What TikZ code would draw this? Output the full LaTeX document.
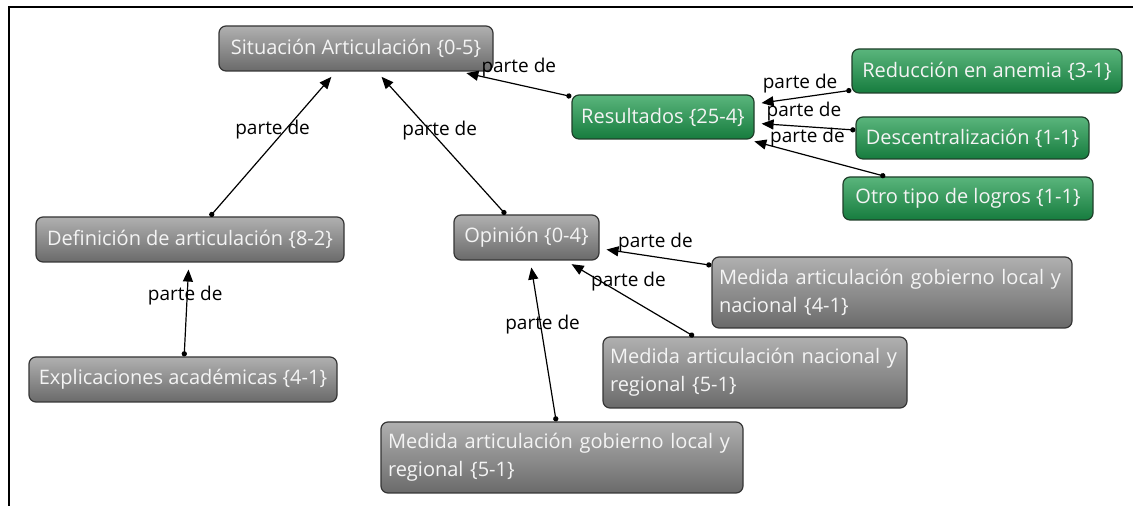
\documentclass[tikz,border=0pt]{standalone}
\usepackage{fontspec}
\setmainfont{Open Sans}
\usetikzlibrary{arrows.meta}
\definecolor{codetop}{HTML}{B0B0B0}
\definecolor{codebot}{HTML}{6A6A6A}
\definecolor{codeline}{HTML}{353535}
\definecolor{codetext}{HTML}{F4F4F4}
\definecolor{restop}{HTML}{5AB57C}
\definecolor{resbot}{HTML}{167C3E}
\definecolor{resline}{HTML}{1F3F2A}

\begin{document}
\begin{tikzpicture}[x=0.5pt,y=-0.5pt,
    code/.style={draw=codeline,line width=0.6pt,rounded corners=3.5pt,
      top color=codetop,bottom color=codebot,text=codetext,
      font=\fontsize{10}{14}\selectfont,inner sep=0pt},
    result/.style={code,draw=resline,top color=restop,bottom color=resbot},
    twoline/.style={align=left,inner xsep=3.5pt},
    partof/.style={line width=0.6pt,{Circle[length=2.6pt]}-{Triangle[length=6pt,width=5pt]},shorten >=3.5pt},
    lbl/.style={font=\fontsize{9.5}{11}\selectfont,inner sep=0pt}]
  \useasboundingbox (0,0) rectangle (1133,506);
  \draw[line width=1pt] (9,506) -- (9,7) -- (1133,7);

  \node[code,minimum width=137pt,minimum height=22.5pt] (Sit) at (356,48.5) {Situación Articulación \{0-5\}};
  \node[result,minimum width=91pt,minimum height=22pt] (Res) at (663,117) {Resultados \{25-4\}};
  \node[result,minimum width=135pt,minimum height=22pt] (Red) at (987,71) {Reducción en anemia \{3-1\}};
  \node[result,minimum width=116.5pt,minimum height=21pt] (Desc) at (972.5,138) {Descentralización \{1-1\}};
  \node[result,minimum width=125pt,minimum height=21.5pt] (Otro) at (968,198.5) {Otro tipo de logros \{1-1\}};
  \node[code,minimum width=154pt,minimum height=22.5pt] (Def) at (190,239.5) {Definición de articulación \{8-2\}};
  \node[code,minimum width=72.5pt,minimum height=22.5pt] (Op) at (526.5,237.5) {Opinión \{0-4\}};
  \node[code,minimum width=154pt,minimum height=22.5pt] (Exp) at (183,379.5) {Explicaciones académicas \{4-1\}};
  \node[code,twoline,text width=173pt,minimum height=35.5pt] (MedLN) at (892,292.5) {Medida articulación gobierno local y\\nacional \{4-1\}};
  \node[code,twoline,text width=145pt,minimum height=35.5pt] (MedNR) at (755,372.5) {Medida articulación nacional y\\regional \{5-1\}};
  \node[code,twoline,text width=174pt,minimum height=35.5pt] (MedLR) at (562,457.5) {Medida articulación gobierno local y\\regional \{5-1\}};

  \draw[partof] (Res) -- node[lbl,pos=0.47,yshift=8.5pt] {parte de} (Sit);
  \draw[partof] (Def) -- node[lbl,pos=0.6,xshift=-6.5pt] {parte de} (Sit);
  \draw[partof] (Op) -- node[lbl,pos=0.59,xshift=5pt] {parte de} (Sit);
  \draw[partof] (Red) -- node[lbl,pos=0.53,yshift=7pt] {parte de} (Res);
  \draw[partof] (Desc) -- node[lbl,pos=0.51,yshift=7.5pt] {parte de} (Res);
  \draw[partof] (Otro) -- node[lbl,pos=0.565,yshift=9pt] {parte de} (Res);
  \draw[partof] (Exp) -- node[lbl,pos=0.65,xshift=-1pt] {parte de} (Def);
  \draw[partof] (MedLR) -- node[lbl,pos=0.6,xshift=1pt] {parte de} (Op);
  \draw[partof] (MedLN) -- node[lbl,pos=0.5,yshift=7pt] {parte de} (Op);
  \draw[partof] (MedNR) -- node[lbl,pos=0.51,yshift=8pt] {parte de} (Op);
\end{tikzpicture}
\end{document}
